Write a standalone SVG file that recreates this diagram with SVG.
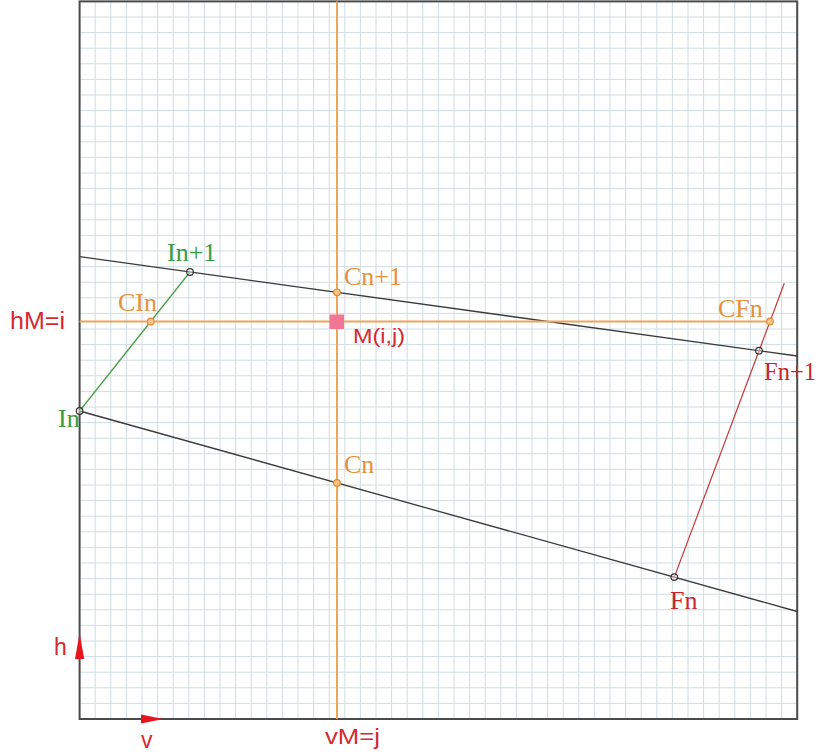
<svg xmlns="http://www.w3.org/2000/svg" width="818" height="756" viewBox="0 0 818 756">
<style>
.grid{stroke:#d2dde2;stroke-width:1;fill:none}
.frame{stroke:#4a4a4a;stroke-width:2;fill:none}
.blk{stroke:#3a3a3a;stroke-width:1.3;fill:none}
.grn{stroke:#4aa04a;stroke-width:1.3;fill:none}
.red{stroke:#c0393b;stroke-width:1.2;fill:none}
.org{stroke:#f0a458;stroke-width:2;fill:none}
.pt{fill:#ffffff;fill-opacity:0.4;stroke:#333;stroke-width:1.2}
.opt{fill:#f8c48e;stroke:#e48a30;stroke-width:1.2}
.serif{font-family:"Liberation Serif","Times New Roman",serif;font-size:26px}
.sans{font-family:"Liberation Sans",Arial,sans-serif}
.tg{fill:#3c9a3c}
.to{fill:#e8903c}
.tr{fill:#c8262c}
.ts{fill:#d42a30}
</style>
<rect x="0" y="0" width="818" height="756" fill="#ffffff"/>
<g id="grid">
<path class="grid" d="M95.2 1.4V719M110.8 1.4V719M126.4 1.4V719M142 1.4V719M157.6 1.4V719M173.2 1.4V719M188.8 1.4V719M204.4 1.4V719M220 1.4V719M235.6 1.4V719M251.2 1.4V719M266.8 1.4V719M282.4 1.4V719M298 1.4V719M313.6 1.4V719M329.2 1.4V719M344.8 1.4V719M360.4 1.4V719M376 1.4V719M391.6 1.4V719M407.2 1.4V719M422.8 1.4V719M438.4 1.4V719M454 1.4V719M469.6 1.4V719M485.2 1.4V719M500.8 1.4V719M516.4 1.4V719M532 1.4V719M547.6 1.4V719M563.2 1.4V719M578.8 1.4V719M594.4 1.4V719M610 1.4V719M625.6 1.4V719M641.2 1.4V719M656.8 1.4V719M672.4 1.4V719M688 1.4V719M703.6 1.4V719M719.2 1.4V719M734.8 1.4V719M750.4 1.4V719M766 1.4V719M781.6 1.4V719
M79.6 703.4H797.2M79.6 687.8H797.2M79.6 672.2H797.2M79.6 656.6H797.2M79.6 641H797.2M79.6 625.4H797.2M79.6 609.8H797.2M79.6 594.2H797.2M79.6 578.6H797.2M79.6 563H797.2M79.6 547.4H797.2M79.6 531.8H797.2M79.6 516.2H797.2M79.6 500.6H797.2M79.6 485H797.2M79.6 469.4H797.2M79.6 453.8H797.2M79.6 438.2H797.2M79.6 422.6H797.2M79.6 407H797.2M79.6 391.4H797.2M79.6 375.8H797.2M79.6 360.2H797.2M79.6 344.6H797.2M79.6 329H797.2M79.6 313.4H797.2M79.6 297.8H797.2M79.6 282.2H797.2M79.6 266.6H797.2M79.6 251H797.2M79.6 235.4H797.2M79.6 219.8H797.2M79.6 204.2H797.2M79.6 188.6H797.2M79.6 173H797.2M79.6 157.4H797.2M79.6 141.8H797.2M79.6 126.2H797.2M79.6 110.6H797.2M79.6 95H797.2M79.6 79.4H797.2M79.6 63.8H797.2M79.6 48.2H797.2M79.6 32.6H797.2M79.6 17H797.2"/>
<rect class="frame" x="79.6" y="1.4" width="717.6" height="717.6"/>
</g>
<g id="axes">
<polygon points="79.6,633 84.2,659 75,659" fill="#e8141c"/>
<polygon points="141,714.6 163.5,719 141,723.4" fill="#e8141c"/>
<text class="sans ts" x="54" y="655" font-size="23">h</text>
<text class="sans ts" x="141" y="748" font-size="23">v</text>
</g>
<g id="connectors">
<line class="blk" x1="79.6" y1="256.7" x2="797.2" y2="356"/>
<line class="blk" x1="79.6" y1="411" x2="797.2" y2="611.5"/>
<line class="grn" x1="79.6" y1="411" x2="190" y2="272"/>
<line class="red" x1="674.3" y1="577.1" x2="784.3" y2="283.3"/>
<line id="hM" class="org" x1="79.6" y1="321.5" x2="770" y2="321.5"/>
<line id="vM" class="org" x1="337" y1="1.4" x2="337" y2="719"/>
</g>
<g id="label-hM">
<text class="sans ts" x="10" y="328.5" font-size="23" textLength="55" lengthAdjust="spacingAndGlyphs">hM=i</text>
</g>
<g id="label-vM">
<text class="sans ts" x="325" y="743.5" font-size="22" textLength="55" lengthAdjust="spacingAndGlyphs">vM=j</text>
</g>
<g id="node-In">
<circle class="pt" cx="79.6" cy="411" r="3.3"/>
<text class="serif tg" x="58" y="427">In</text>
</g>
<g id="node-In1">
<circle class="pt" cx="190" cy="272" r="3.3"/>
<text class="serif tg" x="167" y="260.5">In+1</text>
</g>
<g id="node-CIn">
<circle class="opt" cx="150.8" cy="321.5" r="3.3"/>
<text class="serif to" x="118" y="311">CIn</text>
</g>
<g id="node-Cn1">
<circle class="opt" cx="337" cy="292.3" r="3.3"/>
<text class="serif to" x="344" y="285">Cn+1</text>
</g>
<g id="node-Cn">
<circle class="opt" cx="337" cy="482.9" r="3.3"/>
<text class="serif to" x="344" y="473">Cn</text>
</g>
<g id="node-CFn">
<circle class="opt" cx="770" cy="321.5" r="3.3"/>
<text class="serif to" x="718" y="316.5">CFn</text>
</g>
<g id="node-Fn1">
<circle class="pt" cx="759" cy="350.7" r="3.3"/>
<text class="serif tr" x="764" y="380" textLength="52" lengthAdjust="spacingAndGlyphs">Fn+1</text>
</g>
<g id="node-Fn">
<circle class="pt" cx="674.3" cy="577.1" r="3.3"/>
<text class="serif tr" x="670" y="609">Fn</text>
</g>
<g id="node-M">
<rect x="329.5" y="314.5" width="14.5" height="14.5" fill="#f07696"/>
<text class="sans ts" x="353" y="342.5" font-size="21" textLength="52" lengthAdjust="spacingAndGlyphs">M(i,j)</text>
</g>
</svg>
